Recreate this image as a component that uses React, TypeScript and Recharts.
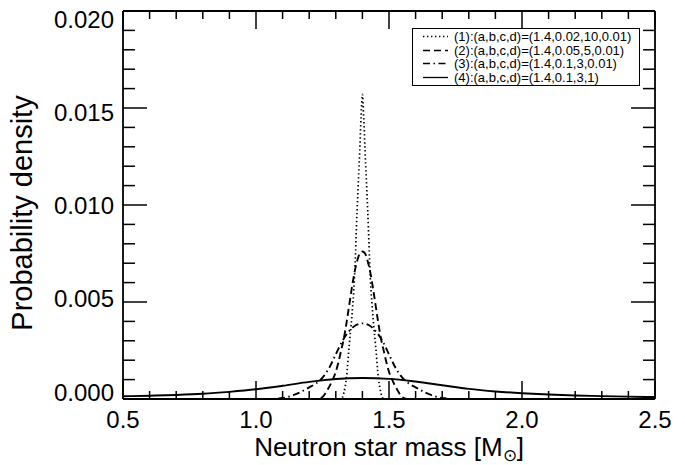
import React from 'react';
import { LineChart, Line, XAxis, YAxis } from 'recharts';

// (1) dotted: (a,b,c,d)=(1.4,0.02,10,0.01)
const mass1 = [0.5, 1.3, 1.32, 1.33, 1.34, 1.35, 1.36, 1.37, 1.38, 1.39, 1.395, 1.4, 1.405, 1.41, 1.42, 1.43, 1.44, 1.45, 1.46, 1.47, 1.48, 1.5, 2.5];
const dens1 = [0, 0, 0, 0.0003, 0.0011, 0.0027, 0.0042, 0.0062, 0.0097, 0.0128, 0.0145, 0.0157, 0.0145, 0.0128, 0.0097, 0.0062, 0.0042, 0.0027, 0.0011, 0.0003, 0, 0, 0];

// (2) dashed: (1.4,0.05,5,0.01)
const mass2 = [0.5, 1.2, 1.23, 1.25, 1.27, 1.285, 1.3, 1.31, 1.32, 1.33, 1.34, 1.35, 1.36, 1.37, 1.38, 1.39, 1.4, 1.41, 1.42, 1.43, 1.44, 1.45, 1.46, 1.47, 1.48, 1.49, 1.5, 1.515, 1.53, 1.55, 1.57, 1.6, 2.5];
const dens2 = [0, 0, 0, 0.0001, 0.0005, 0.0009, 0.0014, 0.0019, 0.0025, 0.0031, 0.0039, 0.0048, 0.0057, 0.0065, 0.0071, 0.0075, 0.0076, 0.0075, 0.0071, 0.0065, 0.0057, 0.0048, 0.0039, 0.0031, 0.0025, 0.0019, 0.0014, 0.0009, 0.0005, 0.0001, 0, 0, 0];

// (3) dash-dot: (1.4,0.1,3,0.01)
const mass3 = [0.5, 1.0, 1.05, 1.1, 1.15, 1.2, 1.225, 1.25, 1.275, 1.3, 1.325, 1.35, 1.375, 1.4, 1.425, 1.45, 1.475, 1.5, 1.525, 1.55, 1.575, 1.6, 1.65, 1.7, 1.75, 1.8, 2.5];
const dens3 = [0, 0, 0, 0.00005, 0.00025, 0.0006, 0.0008, 0.0011, 0.0016, 0.0023, 0.003, 0.0035, 0.0038, 0.0039, 0.0038, 0.0035, 0.003, 0.0023, 0.0016, 0.0011, 0.0008, 0.0006, 0.00025, 0.00005, 0, 0, 0];

// (4) solid: (1.4,0.1,3,1)
const mass4 = [0.5, 0.6, 0.7, 0.8, 0.9, 1.0, 1.1, 1.2, 1.3, 1.4, 1.5, 1.6, 1.7, 1.8, 1.9, 2.0, 2.1, 2.2, 2.3, 2.4, 2.5];
const dens4 = [0.00014, 0.00017, 0.00021, 0.00027, 0.00037, 0.0005, 0.00068, 0.00088, 0.00103, 0.00108, 0.00104, 0.0009, 0.00071, 0.00052, 0.00039, 0.0003, 0.00023, 0.00018, 0.00015, 0.00012, 0.0001];

const legendLabels = [
  '(1):(a,b,c,d)=(1.4,0.02,10,0.01)',
  '(2):(a,b,c,d)=(1.4,0.05,5,0.01)',
  '(3):(a,b,c,d)=(1.4,0.1,3,0.01)',
  '(4):(a,b,c,d)=(1.4,0.1,3,1)',
];

const massTicks = [0.5, 0.6, 0.7, 0.8, 0.9, 1.0, 1.1, 1.2, 1.3, 1.4, 1.5, 1.6, 1.7, 1.8, 1.9, 2.0, 2.1, 2.2, 2.3, 2.4, 2.5];
const massLabels = [0.5, 1.0, 1.5, 2.0, 2.5];
const densTicks = [0, 0.001, 0.002, 0.003, 0.004, 0.005, 0.006, 0.007, 0.008, 0.009, 0.01, 0.011, 0.012, 0.013, 0.014, 0.015, 0.016, 0.017, 0.018, 0.019, 0.02];
const densLabels = [0, 0.005, 0.01, 0.015, 0.02];

const FONT = '"Liberation Sans", Arial, Helvetica, sans-serif';
const dashes = ['1.4 2.6', '7 4', '7 3.5 1.5 3.5', undefined];
const AXIS_W = 1.8;

const rows = (m: number[], p: number[]) => m.map((v, i) => ({ m: v, p: p[i] }));
const series = [rows(mass1, dens1), rows(mass2, dens2), rows(mass3, dens3), rows(mass4, dens4)];

const isMajor = (v: number, list: number[]) => list.some((t) => Math.abs(t - v) < 1e-9);

const BottomTick = ({ x, y, payload }: any) => {
  const major = isMajor(payload.value, massLabels);
  return (
    <g>
      <line x1={x} y1={y} x2={x} y2={y - (major ? 18 : 8)} stroke="#000" strokeWidth={1.5} />
      {major && (
        <text x={x} y={y + 29} textAnchor="middle" fontSize={24} fontFamily={FONT} fill="#000">
          {payload.value.toFixed(1)}
        </text>
      )}
    </g>
  );
};

const TopTick = ({ x, y, payload }: any) => {
  const major = isMajor(payload.value, massLabels);
  return <line x1={x} y1={y} x2={x} y2={y + (major ? 18 : 8)} stroke="#000" strokeWidth={1.5} />;
};

// labels sit a little inside the end ticks, like the original plot
const LeftTick = ({ x, y, payload }: any) => {
  const major = isMajor(payload.value, densLabels);
  const shift = 8 - 15 * (1 - payload.value / 0.02);
  return (
    <g>
      <line x1={x} y1={y} x2={x + (major ? 24 : 12)} y2={y} stroke="#000" strokeWidth={1.5} />
      {major && (
        <text x={x - 9} y={y + 8.5 + shift} textAnchor="end" fontSize={24} fontFamily={FONT} fill="#000">
          {payload.value.toFixed(3)}
        </text>
      )}
    </g>
  );
};

const RightTick = ({ x, y, payload }: any) => {
  const major = isMajor(payload.value, densLabels);
  return <line x1={x} y1={y} x2={x - (major ? 24 : 12)} y2={y} stroke="#000" strokeWidth={1.5} />;
};

const XTitle = ({ viewBox }: any) => {
  const cx = viewBox.x + viewBox.width / 2;
  const by = viewBox.y + 57;
  return (
    <text x={cx} y={by} textAnchor="middle" fontSize={26} fontFamily={FONT} fill="#000">
      Neutron star mass [M
      <tspan fontSize={17} dy={5}>⊙</tspan>
      <tspan dy={-5}>]</tspan>
    </text>
  );
};

const YTitle = ({ viewBox }: any) => {
  const cy = viewBox.y + viewBox.height / 2 + 8;
  const bx = 32;
  return (
    <text x={bx} y={cy} transform={`rotate(-90, ${bx}, ${cy})`} textAnchor="middle" fontSize={29} fontFamily={FONT} fill="#000">
      Probability density
    </text>
  );
};

const Legend = () => (
  <div
    style={{
      position: 'absolute', left: 412, top: 28, width: 228, height: 58, boxSizing: 'border-box',
      border: '1px solid #000', background: '#fff', paddingTop: 1, fontFamily: FONT, fontSize: 13,
    }}
  >
    {legendLabels.map((label, i) => (
      <div key={label} style={{ display: 'flex', alignItems: 'center', height: 13.5 }}>
        <svg width={37} height={13} style={{ flex: 'none' }}>
          <line x1={10} y1={6.5} x2={35} y2={6.5} stroke="#000" strokeWidth={1.3} strokeDasharray={dashes[i]} />
        </svg>
        <span style={{ marginLeft: 4, lineHeight: '13px', whiteSpace: 'nowrap' }}>{label}</span>
      </div>
    ))}
  </div>
);

export default function App() {
  return (
    <div style={{ position: 'absolute', left: 0, top: 0, width: 685, height: 465, background: '#fff' }}>
      <LineChart width={685} height={465} margin={{ top: 0, right: 0, bottom: 0, left: 0 }}>
        <XAxis
          dataKey="m" type="number" domain={[0.5, 2.5]} ticks={massTicks} interval={0} allowDataOverflow
          height={66} tickLine={false} tickSize={0} tickMargin={0} tick={<BottomTick />}
          axisLine={{ stroke: '#000', strokeWidth: AXIS_W }} label={<XTitle />}
        />
        <XAxis
          xAxisId="top" orientation="top" dataKey="m" type="number" domain={[0.5, 2.5]} ticks={massTicks}
          interval={0} allowDataOverflow height={11} tickLine={false} tickSize={0} tickMargin={0}
          tick={<TopTick />} axisLine={{ stroke: '#000', strokeWidth: AXIS_W }}
        />
        <YAxis
          type="number" domain={[0, 0.02]} ticks={densTicks} interval={0} allowDataOverflow width={123}
          tickLine={false} tickSize={0} tickMargin={0} tick={<LeftTick />}
          axisLine={{ stroke: '#000', strokeWidth: AXIS_W }} label={<YTitle />}
        />
        <YAxis
          yAxisId="right" orientation="right" type="number" domain={[0, 0.02]} ticks={densTicks} interval={0}
          allowDataOverflow width={30} tickLine={false} tickSize={0} tickMargin={0} tick={<RightTick />}
          axisLine={{ stroke: '#000', strokeWidth: AXIS_W }}
        />
        {series.map((data, i) => (
          <Line
            key={i} data={data} dataKey="p" type="monotone" stroke="#000" strokeWidth={i === 0 ? 1.7 : 1.9}
            strokeDasharray={dashes[i]} dot={false} activeDot={false} isAnimationActive={false}
          />
        ))}
      </LineChart>
      <Legend />
    </div>
  );
}
